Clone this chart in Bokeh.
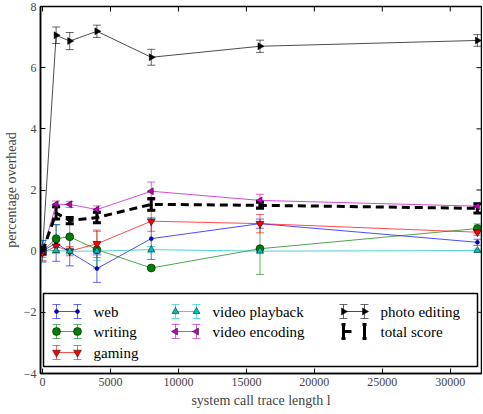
from math import pi
from bokeh.plotting import figure
from bokeh.models import (ColumnDataSource, Whisker, TeeHead, FixedTicker, Range1d)
from bokeh.core.properties import value
from bokeh.embed import file_html
from bokeh.resources import INLINE

# ---- data ----
trace_len = [0, 1000, 2000, 4000, 8000, 16000, 32000]

web = [0.0, 0.27, -0.03, -0.57, 0.41, 0.90, 0.29]
web_err = [0.35, 0.60, 0.45, 0.45, 0.68, 0.15, 0.10]

writing = [0.0, 0.41, 0.47, 0.05, -0.55, 0.08, 0.74]
writing_err = [0.20, 0.45, 0.40, 0.60, 0.05, 0.84, 0.15]

gaming = [-0.05, 0.16, 0.0, 0.24, 0.98, 0.90, 0.62]
gaming_err = [0.25, 0.15, 0.15, 0.45, 0.33, 0.30, 0.10]

playback = [0.0, 0.02, 0.0, 0.0, 0.05, 0.0, 0.02]
playback_err = [0.35, 0.10, 0.10, 0.30, 0.10, 0.05, 0.05]

encoding = [0.0, 1.53, 1.53, 1.36, 1.96, 1.66, 1.47]
encoding_err = [0.10, 0.11, 0.10, 0.12, 0.30, 0.20, 0.10]

photo = [0.05, 7.06, 6.87, 7.19, 6.34, 6.70, 6.89]
photo_err = [0.10, 0.27, 0.28, 0.20, 0.26, 0.20, 0.19]

total = [0.0, 1.25, 1.0, 1.1, 1.53, 1.50, 1.40]
total_err = [0.10, 0.20, 0.10, 0.17, 0.19, 0.10, 0.15]

x_ticks = [0, 5000, 10000, 15000, 20000, 25000, 30000]
y_ticks = [-4, -2, 0, 2, 4, 6, 8]

FONT = "Liberation Serif"
FW, FH = 441, 367

p = figure(frame_width=FW, frame_height=FH, output_backend="svg", toolbar_location=None,
           x_range=Range1d(-150, 32300), y_range=Range1d(-4, 8),
           min_border_left=0, min_border_bottom=41, min_border_top=6, min_border_right=1)
p.extra_x_ranges = {"lx": Range1d(0, FW)}
p.extra_y_ranges = {"ly": Range1d(0, FH)}
p.grid.visible = False
p.outline_line_color = "black"
p.outline_line_width = 1.5
p.background_fill_color = "white"

for ax in (p.xaxis[0], p.yaxis[0]):
    ax.major_tick_in = 5
    ax.major_tick_out = 0
    ax.minor_tick_line_color = None
    ax.axis_line_width = 1.5
    ax.major_label_text_font = FONT
    ax.major_label_text_font_size = "12px"
    ax.axis_label_text_font = FONT
    ax.axis_label_text_font_size = "14px"
    ax.axis_label_text_font_style = "normal"
p.xaxis.ticker = FixedTicker(ticks=x_ticks)
p.yaxis.ticker = FixedTicker(ticks=y_ticks)
p.xaxis.major_label_standoff = 4
p.yaxis.major_label_standoff = 4
p.xaxis.axis_label_standoff = 4
p.yaxis.axis_label_standoff = 2
p.xaxis.axis_label = "system call trace length l"
p.yaxis.axis_label = "percentage overhead"
p.yaxis.major_label_overrides = {-4: "\u22124", -2: "\u22122"}

# inward ticks on the top and right edges (clipped to the frame)
p.scatter(x=x_ticks, y=[8] * len(x_ticks), marker="dash", angle=pi / 2, size=10,
          line_color="black", line_width=1)
p.scatter(x=[32300] * len(y_ticks), y=y_ticks, marker="dash", size=10,
          line_color="black", line_width=1)

series = [
    ("web", web, web_err, "#0000ff", "circle", 4, None),
    ("writing", writing, writing_err, "#008000", "circle", 8, None),
    ("gaming", gaming, gaming_err, "#ff0000", "inverted_triangle", 8, None),
    ("video playback", playback, playback_err, "#00bfbf", "triangle", 7, None),
    ("video encoding", encoding, encoding_err, "#bf00bf", "triangle", 7, 90),
    ("photo editing", photo, photo_err, "#000000", "triangle", 7, -90),
]

for name, ys, errs, col, marker, size, angle in series:
    src = ColumnDataSource(dict(x=trace_len, y=ys,
                                lo=[a - b for a, b in zip(ys, errs)],
                                hi=[a + b for a, b in zip(ys, errs)]))
    w = Whisker(source=src, base="x", lower="lo", upper="hi",
                line_color=col, line_alpha=0.6, line_width=1,
                upper_head=TeeHead(size=8, line_color=col, line_alpha=0.6, line_width=1),
                lower_head=TeeHead(size=8, line_color=col, line_alpha=0.6, line_width=1))
    p.add_layout(w)
    p.line("x", "y", source=src, line_color=col, line_width=1, line_alpha=0.7)
    kw = {}
    if angle is not None:
        kw["angle"] = angle
        kw["angle_units"] = "deg"
    p.scatter("x", "y", source=src, marker=marker, size=size, fill_color=col,
              line_color="black", line_width=0.5, **kw)

tsrc = ColumnDataSource(dict(x=trace_len, y=total,
                             lo=[a - b for a, b in zip(total, total_err)],
                             hi=[a + b for a, b in zip(total, total_err)]))
tw = Whisker(source=tsrc, base="x", lower="lo", upper="hi", line_color="black", line_width=3,
             upper_head=TeeHead(size=8, line_color="black", line_width=3),
             lower_head=TeeHead(size=8, line_color="black", line_width=3))
p.add_layout(tw)
p.line("x", "y", source=tsrc, line_color="black", line_width=3, line_dash="8 5")

# ---- legend drawn in frame-pixel coordinates ----
LK = dict(x_range_name="lx", y_range_name="ly")
p.quad(left=3, right=437, bottom=7, top=80, fill_color="white", line_color="black",
       line_width=1.5, **LK)
col_x = [16, 135, 303]   # left glyph position of each legend column
row_y = [62, 42, 21]
GW = 21                  # distance between the two glyph ends
legend_pos = [(0, 0), (0, 1), (0, 2), (1, 0), (1, 1), (2, 0)]
for (name, ys, errs, col, marker, size, angle), (c, r) in zip(series, legend_pos):
    x0 = col_x[c]
    y0 = row_y[r]
    xs = [x0, x0 + GW]
    p.segment(x0=[x0], y0=[y0], x1=[x0 + GW], y1=[y0], line_color=col, line_alpha=0.7, **LK)
    p.segment(x0=xs, y0=[y0 - 7] * 2, x1=xs, y1=[y0 + 7] * 2, line_color=col,
              line_alpha=0.6, **LK)
    for dy in (-7, 7):
        p.segment(x0=[v - 4 for v in xs], y0=[y0 + dy] * 2, x1=[v + 4 for v in xs],
                  y1=[y0 + dy] * 2, line_color=col, line_alpha=0.6, **LK)
    kw = {}
    if angle is not None:
        kw["angle"] = angle
        kw["angle_units"] = "deg"
    p.scatter(x=xs, y=[y0, y0], marker=marker, size=size, fill_color=col,
              line_color="black", line_width=0.5, **kw, **LK)
    p.text(x=[x0 + 37], y=[y0], text=[name], text_font=value(FONT), text_font_size="15px",
           text_baseline="middle", text_color="black", **LK)

# total score legend entry
x0, y0 = col_x[2], row_y[1]
xs = [x0, x0 + GW]
p.segment(x0=[x0], y0=[y0], x1=[x0 + 8], y1=[y0], line_color="black", line_width=3, **LK)
p.segment(x0=xs, y0=[y0 - 7] * 2, x1=xs, y1=[y0 + 7] * 2, line_color="black",
          line_width=3, **LK)
for dy in (-7, 7):
    p.segment(x0=[v - 2 for v in xs], y0=[y0 + dy] * 2, x1=[v + 2 for v in xs],
              y1=[y0 + dy] * 2, line_color="black", line_width=3, **LK)
p.text(x=[x0 + 37], y=[y0], text=["total score"], text_font=value(FONT),
       text_font_size="15px", text_baseline="middle", text_color="black", **LK)

open("out.html", "w").write(file_html(p, INLINE))
